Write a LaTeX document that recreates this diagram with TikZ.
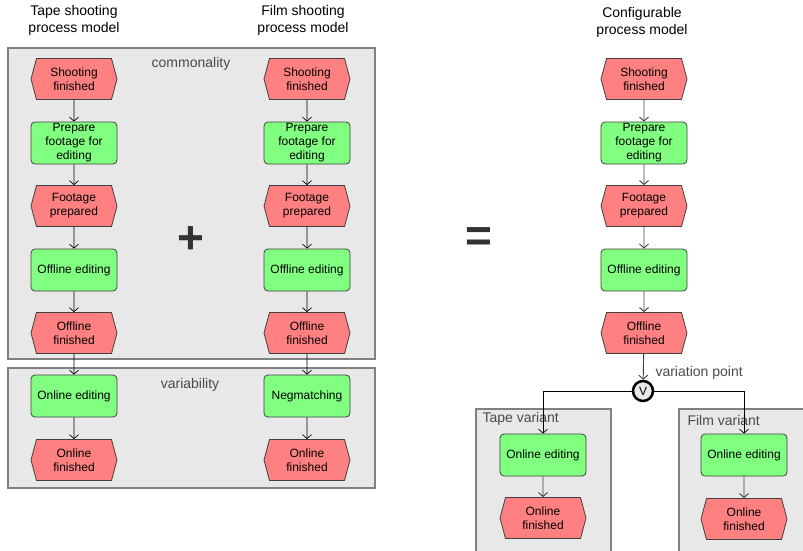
\documentclass[tikz,border=0pt]{standalone}
\usepackage{fontspec}
\setmainfont{Liberation Sans}
\usetikzlibrary{shapes.symbols, arrows.meta, positioning}

\definecolor{eventred}{HTML}{FF8080}
\definecolor{funcgreen}{HTML}{80FF80}
\definecolor{panelgray}{HTML}{E8E8E8}
\definecolor{framegray}{HTML}{808080}
\definecolor{labelgray}{HTML}{4A4A4A}

\tikzset{
  event/.style={signal, signal to=east and west, signal pointer angle=150,
    draw=black!75, line width=0.8pt, fill=eventred, minimum width=86pt,
    minimum height=41pt, inner sep=0pt, align=center,
    font=\fontsize{12}{14}\selectfont},
  func/.style={rectangle, rounded corners=4pt, draw=black!75, line width=0.8pt,
    fill=funcgreen, minimum width=86pt, minimum height=42pt, inner sep=0pt,
    align=center, font=\fontsize{12}{14}\selectfont},
  panel/.style={draw=framegray, fill=panelgray, line width=2pt},
  flow/.style={-{Straight Barb[length=4pt,width=9pt]}, line width=0.7pt},
  cflow/.style={flow, draw=black!75, line width=0.9pt},
  paneltitle/.style={text=labelgray, font=\fontsize{14}{17}\selectfont},
  modeltitle/.style={align=center, font=\fontsize{14}{17}\selectfont},
  sign/.style={text=black!80, font=\fontsize{46}{46}\selectfont\bfseries}
}

\begin{document}
\begin{tikzpicture}[x=1pt, y=-1pt]
\useasboundingbox (0,0) rectangle (803,551);

% draw panels
\draw[panel] (8,48) rectangle (375,359);
\draw[panel] (8,368) rectangle (375,488);
\begin{scope}
\clip (0,0) rectangle (803,551);
\draw[panel] (476,409) rectangle (611,570);
\draw[panel] (679,409) rectangle (830,570);
\end{scope}

% panel labels
\node[paneltitle] (common) at (191,64) {commonality};
\node[paneltitle] (vary) at (190,385) {variability};
\node[paneltitle, anchor=west] (tapevar) at (479,419) {Tape variant};
\node[paneltitle, anchor=west] (filmvar) at (684,420) {Film variant};

% model titles
\node[modeltitle] (ttitle) at (74,20) {Tape shooting\\process model};
\node[modeltitle] (ftitle) at (303,20) {Film shooting\\process model};
\node[modeltitle] (ctitle) at (642,22) {Configurable\\process model};

% common part of all three columns
\foreach \col/\cx in {t/74, f/307, c/644} {
  \node[event] (\col1) at (\cx,79) {Shooting\\finished};
  \node[func] (\col2) at (\cx,143) {Prepare\\footage for\\editing};
  \node[event] (\col3) at (\cx,206) {Footage\\prepared};
  \node[func] (\col4) at (\cx,270) {Offline editing};
  \node[event] (\col5) at (\cx,333) {Offline\\finished};
}

% variable part
\node[func] (t6) at (74,396) {Online editing};
\node[event] (t7) at (74,460) {Online\\finished};
\node[func] (f6) at (307,396) {Negmatching};
\node[event] (f7) at (307,460) {Online\\finished};

% draw arrows
\foreach \col in {t,f}
  \foreach \a/\b in {1/2,2/3,3/4,4/5,5/6,6/7}
    \draw[flow] (\col\a) -- (\col\b);
\foreach \a/\b in {1/2,2/3,3/4,4/5}
  \draw[cflow] (c\a) -- (c\b);

% plus and equals
\node[sign] (plus) at (191,240) {+};
\node[sign] (equals) at (479,240) {=};

% variation point and variants
\node[circle, draw=black, line width=2.5pt, fill=panelgray, minimum size=20pt,
  inner sep=0pt, font=\fontsize{12}{14}\selectfont] (vp) at (643,391) {V};
\node[paneltitle, anchor=west] (vplabel) at (652,373) {variation point};
\node[func] (tv1) at (543,455) {Online editing};
\node[event] (tv2) at (543,518) {Online\\finished};
\node[func] (fv1) at (744,455) {Online editing};
\node[event] (fv2) at (744,519) {Online\\finished};

\draw[cflow] (c5) -- (vp);
\draw[flow] (vp.west) -| (tv1);
\draw[flow] (vp.east) -| (fv1);
\draw[cflow] (tv1) -- (tv2);
\draw[cflow] (fv1) -- (fv2);

\end{tikzpicture}
\end{document}
